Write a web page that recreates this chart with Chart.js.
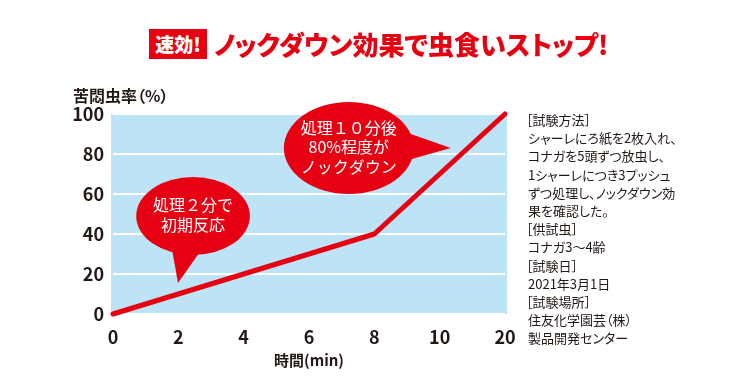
<!DOCTYPE html>
<html lang="ja">
<head>
<meta charset="utf-8">
<script src="https://cdn.jsdelivr.net/npm/chart.js@4.4.1/dist/chart.umd.min.js"></script>
<style>
  html,body{margin:0;padding:0;background:#fff;}
  #wrap{position:relative;width:752px;height:386px;overflow:hidden;font-family:"Noto Sans CJK JP","Noto Sans",sans-serif;}
  canvas{position:absolute;left:0;top:0;}
  .badge{position:absolute;left:149px;top:29px;width:58px;height:30px;background:#e60012;color:#fff;font-weight:900;font-size:19px;line-height:30px;text-align:center;font-feature-settings:"palt";}
  .head{position:absolute;left:214px;top:26px;color:#e60012;font-weight:900;font-size:26px;line-height:36px;white-space:nowrap;font-feature-settings:"palt";}
  .ytitle{position:absolute;left:73px;top:85px;color:#231815;font-weight:700;font-size:16px;line-height:20px;white-space:nowrap;font-feature-settings:"palt";}
  .notes{position:absolute;left:528px;top:111px;color:#231815;font-size:13px;line-height:18.2px;white-space:nowrap;font-feature-settings:"palt";}
  .notes .b{margin-left:-2px;}
</style>
</head>
<body>
<div id="wrap">
  <canvas id="c" width="752" height="386"></canvas>
  <div class="badge">速効!</div>
  <div class="head">ノックダウン効果で虫食いストップ!</div>
  <div class="ytitle">苦悶虫率（%）</div>
  <div class="notes">
    <div class="b">［試験方法］</div>
    <div>シャーレにろ紙を2枚入れ、</div>
    <div>コナガを5頭ずつ放虫し、</div>
    <div>1シャーレにつき3プッシュ</div>
    <div>ずつ処理し、ノックダウン効</div>
    <div>果を確認した。</div>
    <div class="b">［供試虫］</div>
    <div>コナガ3〜4齢</div>
    <div class="b">［試験日］</div>
    <div>2021年3月1日</div>
    <div class="b">［試験場所］</div>
    <div>住友化学園芸（株）</div>
    <div>製品開発センター</div>
  </div>
</div>
<script>
// ---- data ----
const categories = ['0', '2', '4', '6', '8', '10', '20'];
const knockdownRate = [0, null, null, null, 40, null, 100];
const yTickMin = 0;
const yTickMax = 100;
const yTickStep = 20;
const xTitle = '時間(min)';

// ---- callouts (positions in data units: category index / value) ----
const callouts = [
  { lines: ['処理２分で', '初期反応'], cx: 1.225, cy: 49, rx: 0.87, ry: 19.5,
    tail: [[0.90, 33], [1.35, 32], [0.995, 15.5]] },
  { lines: ['処理１０分後', '80%程度が', 'ノックダウン'], cx: 3.61, cy: 83, rx: 0.995, ry: 23,
    tail: [[4.47, 91], [4.52, 77], [5.17, 83]] }
];

const RED = '#e60012';
const INK = '#231815';
const BLUE = '#bde3f7';
const FONT = '"Noto Sans CJK JP","Noto Sans",sans-serif';

const bgPlugin = {
  id: 'bg',
  beforeDraw(chart) {
    const a = chart.chartArea, ctx = chart.ctx;
    ctx.save();
    ctx.fillStyle = BLUE;
    ctx.fillRect(a.left - 2, a.top, a.right - a.left + 4, a.bottom - a.top);
    ctx.restore();
  }
};

const calloutPlugin = {
  id: 'callouts',
  afterDatasetsDraw(chart) {
    const ctx = chart.ctx, xs = chart.scales.x, ys = chart.scales.y;
    const px = v => xs.getPixelForValue(v);
    const py = v => ys.getPixelForValue(v);
    ctx.save();
    callouts.forEach(c => {
      const cx = px(c.cx), cy = py(c.cy);
      const rx = Math.abs(px(c.rx) - px(0));
      const ry = Math.abs(py(c.ry) - py(0));
      ctx.fillStyle = RED;
      ctx.beginPath();
      ctx.ellipse(cx, cy, rx, ry, 0, 0, Math.PI * 2);
      ctx.fill();
      ctx.beginPath();
      ctx.moveTo(px(c.tail[0][0]), py(c.tail[0][1]));
      ctx.lineTo(px(c.tail[1][0]), py(c.tail[1][1]));
      ctx.lineTo(px(c.tail[2][0]), py(c.tail[2][1]));
      ctx.closePath();
      ctx.fill();
      ctx.fillStyle = '#fff';
      ctx.font = '16px ' + FONT;
      ctx.textAlign = 'center';
      ctx.textBaseline = 'middle';
      const lh = 19.5;
      const y0 = cy - (c.lines.length - 1) * lh / 2 - 1;
      c.lines.forEach((t, i) => ctx.fillText(t, cx, y0 + i * lh));
    });
    ctx.restore();
  }
};

new Chart(document.getElementById('c'), {
  type: 'line',
  data: {
    labels: categories,
    datasets: [{
      data: knockdownRate,
      borderColor: RED,
      borderWidth: 5,
      pointRadius: 0,
      tension: 0,
      spanGaps: true,
      clip: false,
      borderCapStyle: 'round',
      borderJoinStyle: 'round'
    }]
  },
  options: {
    responsive: false,
    animation: false,
    events: [],
    layout: { padding: { left: 0, top: 114, right: 247, bottom: 0 } },
    plugins: { legend: { display: false }, tooltip: { enabled: false } },
    scales: {
      x: {
        offset: false,
        grid: { display: false, drawTicks: false },
        border: { display: false },
        ticks: { color: INK, font: { family: FONT, size: 18, weight: 'bold' }, padding: 12, maxRotation: 0 },
        title: { display: true, text: xTitle, color: INK, font: { family: FONT, size: 15, weight: 'bold' }, padding: { top: 0, bottom: 17 } },
        afterFit(s) { s.height = 72; }
      },
      y: {
        min: yTickMin, max: yTickMax,
        grid: { color: '#ffffff', lineWidth: 2, drawTicks: false },
        border: { display: false },
        ticks: { stepSize: yTickStep, color: INK, font: { family: FONT, size: 18, weight: 'bold' }, padding: 9 },
        afterFit(s) { s.width = 113; }
      }
    }
  },
  plugins: [bgPlugin, calloutPlugin]
});
</script>
</body>
</html>
